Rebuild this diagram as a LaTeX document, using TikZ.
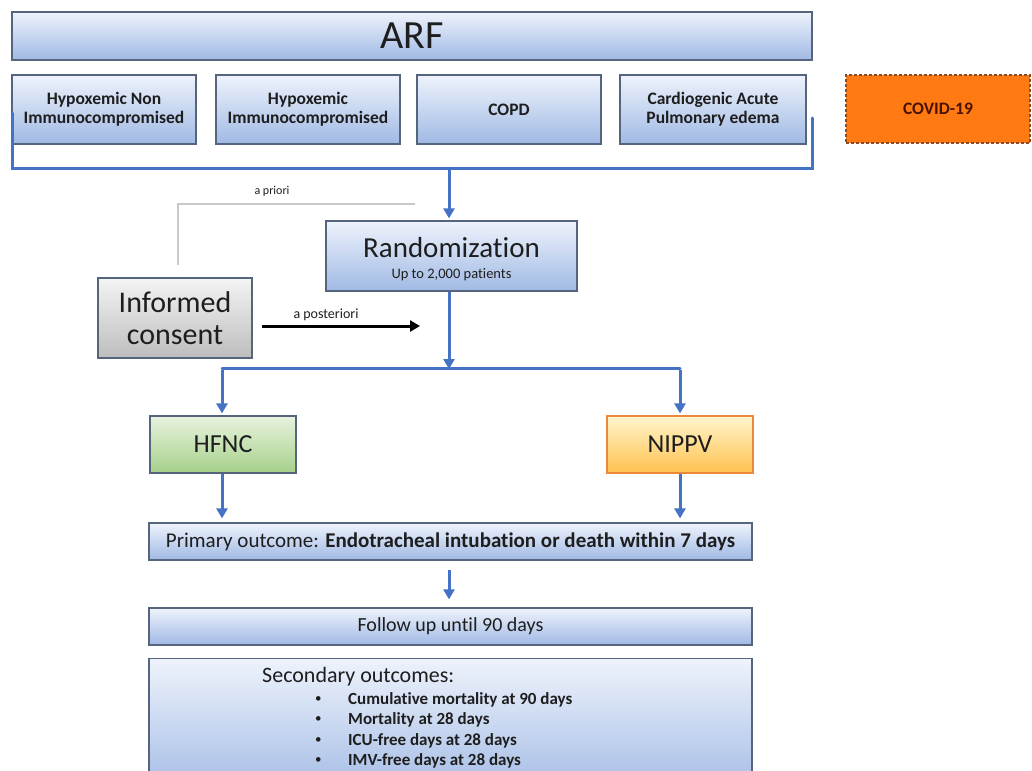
\documentclass[tikz,border=0pt]{standalone}
\usepackage{fontspec}
\setmainfont{Carlito}[Ligatures=NoCommon]
\usetikzlibrary{arrows.meta}
\definecolor{ink}{HTML}{1E1E1E}
\definecolor{edgeblue}{HTML}{55657E}
\definecolor{flow}{HTML}{4472C4}
\definecolor{bluetop}{HTML}{EEF3FC}
\definecolor{bluebot}{HTML}{A0B9E4}
\definecolor{greentop}{HTML}{E8F3DE}
\definecolor{greenbot}{HTML}{A5D089}
\definecolor{goldtop}{HTML}{FFF5CC}
\definecolor{goldbot}{HTML}{FFC24F}
\definecolor{goldedge}{HTML}{E9893B}
\definecolor{graytop}{HTML}{F4F4F4}
\definecolor{graybot}{HTML}{BDBDBD}
\definecolor{covidfill}{HTML}{FF7A12}
\definecolor{covidedge}{HTML}{8C4B22}
\definecolor{covidtext}{HTML}{4A1200}
\definecolor{prioriline}{HTML}{C8C8C8}
\tikzset{
  panel/.style={draw=edgeblue, line width=1.2pt, top color=bluetop, bottom color=bluebot,
    inner sep=0pt, align=center, text=ink},
  greenbox/.style={draw=edgeblue, line width=1.2pt, top color=greentop, bottom color=greenbot,
    inner sep=0pt, align=center, text=ink},
  goldbox/.style={draw=goldedge, line width=1.2pt, top color=goldtop, bottom color=goldbot,
    inner sep=0pt, align=center, text=ink},
  graybox/.style={draw=edgeblue, line width=1.2pt, top color=graytop, bottom color=graybot,
    inner sep=0pt, align=center, text=ink},
  flowline/.style={draw=flow, line width=3pt},
  flowarrow/.style={flowline, -{Triangle[length=10pt,width=11pt]}},
  rowtext/.style={font=\fontsize{17.5}{19}\selectfont\bfseries},
  bullet/.style={anchor=west, text=ink, font=\fontsize{13}{15}\selectfont, inner sep=0pt},
  item/.style={anchor=west, text=ink, font=\fontsize{17}{19}\selectfont\bfseries, inner sep=0pt},
}
\begin{document}
\begin{tikzpicture}[x=1pt, y=-1pt]
\useasboundingbox (0,0) rectangle (1032,770);
\clip (0,0) rectangle (1032,770);

% top row
\node[panel, minimum width=800pt, minimum height=48pt, font=\fontsize{40}{44}\selectfont] (arf) at (412,36) {ARF};
\node[panel, rowtext, minimum width=184pt, minimum height=69pt] (hyponon) at (104,109.5) {Hypoxemic Non\\Immunocompromised};
\node[panel, rowtext, minimum width=184pt, minimum height=69pt] (hypoimm) at (308,109.5) {Hypoxemic\\Immunocompromised};
\node[panel, rowtext, minimum width=184pt, minimum height=69pt] (copd) at (509,109.5) {COPD};
\node[panel, rowtext, minimum width=186pt, minimum height=69pt] (cape) at (713,109.5) {Cardiogenic Acute\\Pulmonary edema};
\node[draw=covidedge, dashed, dash pattern=on 3pt off 2pt, line width=1.4pt, fill=covidfill, rowtext, text=covidtext,
      minimum width=184pt, minimum height=68pt, inner sep=0pt] (covid) at (938,109) {COVID-19};

% bracket collecting the four groups
\coordinate (brL) at (12,113);
\coordinate (brR) at (812,118);
\coordinate (brM) at (449,169);
\draw[flowline, line cap=round] (brL) -- (12,169) -- (812,169) -- (brR);

% randomization and consent
\node[panel, minimum width=251pt, minimum height=70pt] (rand) at (451.5,256) {};
\node[text=ink, inner sep=0pt, font=\fontsize{29}{31}\selectfont] (randtitle) at (451.5,248) {Randomization};
\node[text=ink, inner sep=0pt, font=\fontsize{14.5}{16}\selectfont] (randsub) at (451.5,275) {Up to 2,000 patients};
\draw[flowarrow] (brM) -- ([yshift=2pt]rand.north -| brM);

\node[graybox, minimum width=154pt, minimum height=80pt, font=\fontsize{30}{32}\selectfont] (consent) at (175,318) {Informed\\consent};

\coordinate (prioriA) at (178,265);
\coordinate (prioriB) at (415,204);
\draw[draw=prioriline, line width=2pt] (prioriA) -- (178,204) -- (prioriB);
\node[text=ink, font=\fontsize{12}{14}\selectfont] (prioritxt) at (272,191) {a priori};

\coordinate (postA) at (262,326);
\coordinate (postB) at (420,326);
\draw[line width=3pt, -{Triangle[length=10pt,width=11pt]}] (postA) -- (postB);
\node[text=ink, font=\fontsize{14}{16}\selectfont] (posttxt) at (326,315) {a posteriori};

% the two arms
\coordinate (split) at (449,368);
\coordinate (splitL) at (222,368);
\coordinate (splitR) at (680,368);
\draw[flowarrow] (rand.south -| split) -- ([yshift=-1pt]split);
\draw[flowline, line cap=round] (splitL) -- (splitR);

\node[greenbox, minimum width=146pt, minimum height=57pt, font=\fontsize{26}{30}\selectfont] (hfnc) at (223,444.5) {HFNC};
\node[goldbox, minimum width=146pt, minimum height=57pt, font=\fontsize{26}{30}\selectfont] (nippv) at (680,444.5) {NIPPV};
\draw[flowarrow] ([yshift=-1.5pt]splitL) -- ([yshift=2pt]hfnc.north -| splitL);
\draw[flowarrow] ([yshift=-1.5pt]splitR) -- ([yshift=2pt]nippv.north -| splitR);

% outcomes
\node[panel, minimum width=603pt, minimum height=37pt, font=\fontsize{21}{23}\selectfont] (prim) at (450.5,541.5)
  {Primary outcome: \textbf{Endotracheal intubation or death within 7 days}};
\draw[flowarrow] (hfnc.south -| splitL) -- ([yshift=4pt]prim.north -| splitL);
\draw[flowarrow] (nippv.south -| splitR) -- ([yshift=4pt]prim.north -| splitR);

\node[panel, minimum width=603pt, minimum height=37pt, font=\fontsize{20}{22}\selectfont] (follow) at (450.5,626.5)
  {Follow up until 90 days};
\draw[flowarrow] ([yshift=-9pt]prim.south -| split) -- ([yshift=8pt]follow.north -| split);

\node[panel, minimum width=603pt, minimum height=140pt, anchor=north] (sec) at (450.5,658) {};
\node[anchor=west, text=ink, inner sep=0pt, font=\fontsize{22}{24}\selectfont] (sectitle) at (262,677) {Secondary outcomes:};
\node[bullet] (b1) at (315,700) {•};
\node[item] (i1) at (348,700) {Cumulative mortality at 90 days};
\node[bullet] (b2) at (315,720) {•};
\node[item] (i2) at (348,720) {Mortality at 28 days};
\node[bullet] (b3) at (315,741) {•};
\node[item] (i3) at (348,741) {ICU-free days at 28 days};
\node[bullet] (b4) at (315,761) {•};
\node[item] (i4) at (348,761) {IMV-free days at 28 days};
\end{tikzpicture}
\end{document}
